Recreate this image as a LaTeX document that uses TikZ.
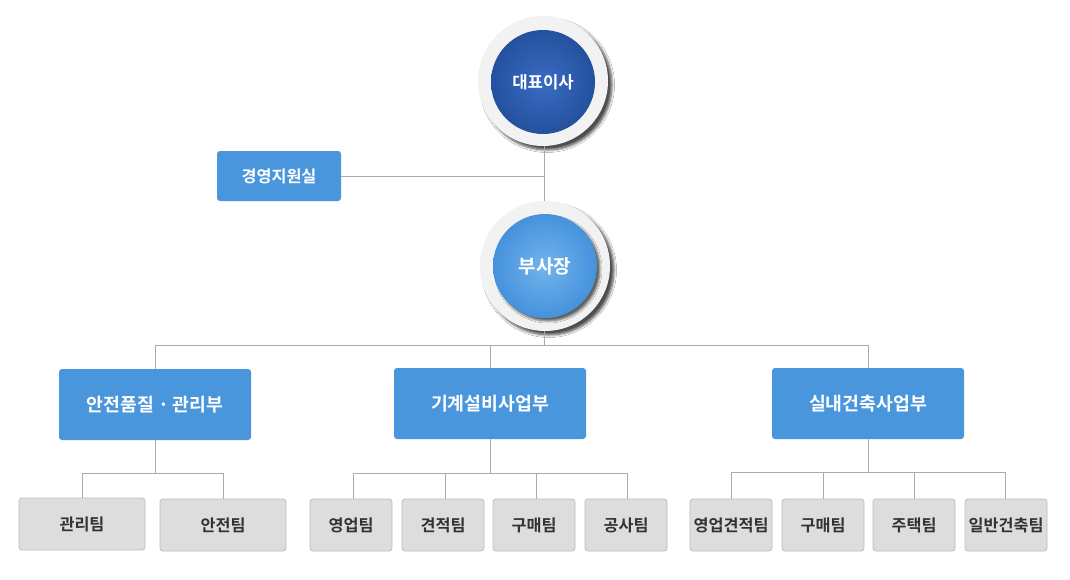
\documentclass[tikz,border=0pt]{standalone}
\usepackage{fontspec}
\newfontfamily\kr{Noto Sans CJK KR}[BoldFont={Noto Sans CJK KR Bold}]
\usetikzlibrary{shadows.blur}
\definecolor{deptblue}{HTML}{4A96DD}
\definecolor{teamgray}{HTML}{DDDDDD}
\definecolor{teamedge}{HTML}{BDBDBD}
\definecolor{linegray}{HTML}{ABABAB}
\definecolor{ceodark}{HTML}{24519E}
\definecolor{ceolight}{HTML}{3A6CC2}
\definecolor{vpdark}{HTML}{4592DC}
\definecolor{vplight}{HTML}{72B4EC}
\definecolor{ringfill}{HTML}{F2F2F2}
\tikzset{
  conn/.style={draw=linegray, line width=0.8pt},
  deptbox/.style={rectangle, rounded corners=3pt, fill=deptblue, text=white, font=\kr\bfseries\fontsize{18.3}{21}\selectfont, minimum width=192pt, minimum height=71pt, inner sep=0pt},
  supbox/.style={rectangle, rounded corners=3pt, fill=deptblue, text=white, font=\kr\bfseries\fontsize{16.3}{19}\selectfont, minimum width=124pt, minimum height=50pt, inner sep=0pt},
  teambox/.style={rectangle, rounded corners=3pt, fill=teamgray, draw=teamedge, line width=0.8pt, text=black!80, font=\kr\bfseries\fontsize{16.3}{19}\selectfont, minimum width=82pt, minimum height=52pt, inner sep=0pt},
  ring/.style={circle, fill=ringfill, minimum size=130pt, inner sep=0pt, blur shadow={shadow xshift=4pt, shadow yshift=-4pt, shadow blur steps=6, shadow opacity=70, shadow blur radius=2.5pt}},
  ceo/.style={circle, minimum size=104pt, inner sep=0pt, shading=radial, inner color=ceolight, outer color=ceodark, text=white, font=\kr\bfseries\fontsize{16.7}{19}\selectfont},
  vp/.style={circle, minimum size=104pt, inner sep=0pt, shading=radial, inner color=vplight, outer color=vpdark, text=white, font=\kr\bfseries\fontsize{19}{22}\selectfont, blur shadow={shadow xshift=3pt, shadow yshift=-3pt, shadow blur steps=5, shadow opacity=60, shadow blur radius=2pt}}
}
\begin{document}
\begin{tikzpicture}[x=1pt,y=-1pt]
\useasboundingbox (0,0) rectangle (1070,579);
\fill[white] (0,0) rectangle (1070,579);
% circles
\node[ring] (ceoring) at (543,81) {};
\node[ceo] (ceo) at (543,82) {대표이사};
\node[ring] (vpring) at (545,266) {};
\node[vp] (vp) at (545,266) {부사장};
% support
\node[supbox] (sup) at (279,176) {경영지원실};
% departments
\node[deptbox] (d1) at (155,404.5) {안전품질 · 관리부};
\node[deptbox] (d2) at (490,403.5) {기계설비사업부};
\node[deptbox] (d3) at (868,403.5) {실내건축사업부};
% teams
\node[teambox, minimum width=126pt] (t11) at (82,524) {관리팀};
\node[teambox, minimum width=126pt] (t12) at (223,525) {안전팀};
\node[teambox] (t21) at (351,525) {영업팀};
\node[teambox] (t22) at (443,525) {견적팀};
\node[teambox] (t23) at (534,525) {구매팀};
\node[teambox] (t24) at (626,525) {공사팀};
\node[teambox] (t31) at (731,525) {영업견적팀};
\node[teambox] (t32) at (823,525) {구매팀};
\node[teambox] (t33) at (914,525) {주택팀};
\node[teambox] (t34) at (1006,525) {일반건축팀};
% junction coordinates
\coordinate (ceobot) at (544,146);
\coordinate (vptop) at (544,201);
\coordinate (vpbot) at (544,331);
\coordinate (topjoin) at (544,176);
\coordinate (bus) at (544,345);
\coordinate (b1) at (155,345);
\coordinate (b2) at (490,345);
\coordinate (b3) at (868,345);
\coordinate (j1) at (155,473);
\coordinate (j1a) at (82,473);
\coordinate (j1b) at (223,473);
\coordinate (j2) at (490,473);
\coordinate (j2a) at (353,473);
\coordinate (j2b) at (445,473);
\coordinate (j2c) at (536,473);
\coordinate (j2d) at (627,473);
\coordinate (j3) at (868,472);
\coordinate (j3a) at (731,472);
\coordinate (j3b) at (823,472);
\coordinate (j3c) at (914,472);
\coordinate (j3d) at (1005,472);
% connectors
\draw[conn] (ceobot) -- (vptop);
\draw[conn] (sup.east) -- (topjoin);
\draw[conn] (vpbot) -- (bus);
\draw[conn] (b1) -- (b3);
\draw[conn] (b1) -- (d1.north);
\draw[conn] (b2) -- (d2.north);
\draw[conn] (b3) -- (d3.north);
\draw[conn] (d1.south) -- (j1);
\draw[conn] (j1a) -- (j1b);
\draw[conn] (j1a) -- (j1a |- t11.north);
\draw[conn] (j1b) -- (j1b |- t12.north);
\draw[conn] (d2.south) -- (j2);
\draw[conn] (j2a) -- (j2d);
\draw[conn] (j2a) -- (j2a |- t21.north);
\draw[conn] (j2b) -- (j2b |- t22.north);
\draw[conn] (j2c) -- (j2c |- t23.north);
\draw[conn] (j2d) -- (j2d |- t24.north);
\draw[conn] (d3.south) -- (j3);
\draw[conn] (j3a) -- (j3d);
\draw[conn] (j3a) -- (j3a |- t31.north);
\draw[conn] (j3b) -- (j3b |- t32.north);
\draw[conn] (j3c) -- (j3c |- t33.north);
\draw[conn] (j3d) -- (j3d |- t34.north);
\end{tikzpicture}
\end{document}
